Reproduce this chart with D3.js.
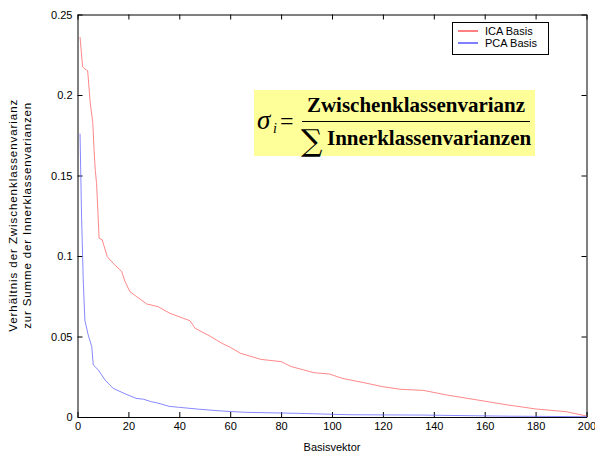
<!DOCTYPE html>
<html>
<head>
<meta charset="utf-8">
<script src="https://cdn.jsdelivr.net/npm/d3@7"></script>
<style>
  body { margin: 0; background: #fff; }
  svg { font-family: "Liberation Sans", Arial, sans-serif; }
  .axis path, .axis line { stroke: #000; }
</style>
</head>
<body>
<script>
// ICA basis ratio per basis vector
var icaIdx = [1, 2, 3, 4, 5, 6, 6.5, 7, 7.5, 8.5, 9.7, 11.7, 14, 17.4, 18.7, 20.6, 23.3, 27.2, 31.7, 36.3, 41.6, 44.2, 46.2, 52, 56.7, 60, 64, 72, 80, 84, 93, 99, 104, 112, 120, 127, 136, 145, 157, 169, 180, 192, 200];
var icaVal = [0.236, 0.2176, 0.216, 0.215, 0.195, 0.183, 0.166, 0.153, 0.145, 0.111, 0.110, 0.0996, 0.0955, 0.0903, 0.084, 0.0778, 0.0747, 0.0702, 0.0685, 0.0644, 0.0613, 0.0598, 0.0551, 0.0503, 0.0458, 0.0433, 0.0396, 0.0358, 0.0344, 0.0313, 0.0275, 0.0267, 0.024, 0.0215, 0.0188, 0.0172, 0.0165, 0.0137, 0.0106, 0.0075, 0.005, 0.0033, 0.0006];

// PCA basis
var pcaIdx = [1, 1.6, 2.3, 2.9, 4.2, 5.6, 6.2, 8.2, 10.8, 14, 19, 23, 26, 29, 32, 36, 40, 48, 57, 66, 86, 107, 135, 170, 200];
var pcaVal = [0.176, 0.124, 0.083, 0.060, 0.051, 0.0437, 0.0323, 0.0292, 0.023, 0.0178, 0.0142, 0.0116, 0.011, 0.0095, 0.0085, 0.0066, 0.006, 0.0048, 0.0037, 0.0029, 0.0023, 0.0014, 0.0012, 0.0005, 0.0002];

var xTicks = [0, 20, 40, 60, 80, 100, 120, 140, 160, 180, 200];
var yTicks = [0, 0.05, 0.1, 0.15, 0.2, 0.25];
var legendNames = ["ICA Basis", "PCA Basis"];
var lineColors = ["#ff6060", "#6060ff"];
var legendColors = ["#ff0000", "#0000ff"];

var width = 595,
    height = 453;
var margin = {left: 77.5, right: 8.5, top: 14.5, bottom: 36};

var svg = d3.select("body").append("svg")
    .attr("width", width)
    .attr("height", height);

var x = d3.scaleLinear().domain([0, 200]).range([margin.left, width - margin.right]);
var y = d3.scaleLinear().domain([0, 0.25]).range([height - margin.bottom, margin.top]);

var fmt = d3.format("~g");

function tickText(g) {
    g.selectAll("text").attr("font-size", 11).style("font-family", "Liberation Sans");
}

// axes with inward ticks (matlab style box)
svg.append("g").attr("class", "axis")
    .attr("transform", "translate(0," + y(0) + ")")
    .call(d3.axisBottom(x).tickValues(xTicks).tickSizeInner(-5).tickSizeOuter(0).tickPadding(5))
    .call(tickText);

svg.append("g").attr("class", "axis")
    .attr("transform", "translate(" + x(0) + ",0)")
    .call(d3.axisLeft(y).tickValues(yTicks).tickFormat(fmt).tickSizeInner(-5).tickSizeOuter(0).tickPadding(5))
    .call(tickText);

svg.append("g").attr("class", "axis")
    .attr("transform", "translate(0," + y(0.25) + ")")
    .call(d3.axisTop(x).tickValues(xTicks).tickSizeInner(-5).tickSizeOuter(0).tickFormat(""));

svg.append("g").attr("class", "axis")
    .attr("transform", "translate(" + x(200) + ",0)")
    .call(d3.axisRight(y).tickValues(yTicks).tickSizeInner(-5).tickSizeOuter(0).tickFormat(""));

// lines
var line = d3.line()
    .x(function(d) { return x(d[0]); })
    .y(function(d) { return y(d[1]); });

var series = [d3.zip(icaIdx, icaVal), d3.zip(pcaIdx, pcaVal)];

series.forEach(function(s, i) {
    svg.append("path")
        .datum(s)
        .attr("fill", "none")
        .attr("stroke", lineColors[i])
        .attr("stroke-opacity", 0.75)
        .attr("stroke-width", 1)
        .attr("d", line);
});

// legend
var legend = svg.append("g");
legend.append("rect")
    .attr("x", 452.5).attr("y", 22.5)
    .attr("width", 96).attr("height", 32)
    .attr("fill", "#fff").attr("stroke", "#000");

legendNames.forEach(function(name, i) {
    var ly = 31 + i * 12;
    legend.append("line")
        .attr("x1", 458).attr("x2", 478)
        .attr("y1", ly).attr("y2", ly)
        .attr("stroke", legendColors[i]);
    legend.append("text")
        .attr("x", 485).attr("y", ly + 4)
        .attr("font-size", 11)
        .text(name);
});

// formula box
var serif = "Liberation Serif";
var fbox = svg.append("g");
fbox.append("rect")
    .attr("x", 254).attr("y", 90)
    .attr("width", 281).attr("height", 66)
    .attr("fill", "#ffff99");

fbox.append("text")
    .attr("x", 257).attr("y", 129)
    .style("font-family", serif)
    .style("font-style", "italic")
    .attr("font-size", 27)
    .text("σ");
fbox.append("text")
    .attr("x", 273).attr("y", 133)
    .style("font-family", serif)
    .style("font-style", "italic")
    .attr("font-size", 14)
    .text("i");
fbox.append("text")
    .attr("x", 280).attr("y", 129)
    .style("font-family", serif)
    .attr("font-size", 24)
    .text("=");
fbox.append("line")
    .attr("x1", 302).attr("x2", 530)
    .attr("y1", 121.5).attr("y2", 121.5)
    .attr("stroke", "#000").attr("stroke-width", 1.2);
fbox.append("text")
    .attr("x", 416).attr("y", 112)
    .attr("text-anchor", "middle")
    .style("font-family", serif)
    .style("font-weight", "bold")
    .attr("font-size", 21)
    .text("Zwischenklassenvarianz");
fbox.append("text")
    .attr("x", 301).attr("y", 151)
    .style("font-family", "DejaVu Serif")
    .attr("font-size", 30)
    .text("∑");
fbox.append("text")
    .attr("x", 327).attr("y", 145)
    .style("font-family", serif)
    .style("font-weight", "bold")
    .attr("font-size", 21)
    .text("Innerklassenvarianzen");

// axis titles
svg.append("text")
    .attr("x", (x(0) + x(200)) / 2)
    .attr("y", 451)
    .attr("text-anchor", "middle")
    .attr("font-size", 11)
    .text("Basisvektor");

var ymid = (y(0) + y(0.25)) / 2;
svg.append("text")
    .attr("transform", "translate(17," + ymid + ") rotate(-90)")
    .attr("text-anchor", "middle")
    .attr("font-size", 11.5)
    .attr("textLength", 232)
    .text("Verhältnis der Zwischenklassenvarianz");
svg.append("text")
    .attr("transform", "translate(31," + ymid + ") rotate(-90)")
    .attr("text-anchor", "middle")
    .attr("font-size", 11.5)
    .attr("textLength", 226)
    .text("zur Summe der Innerklassenvarianzen");
</script>
</body>
</html>
